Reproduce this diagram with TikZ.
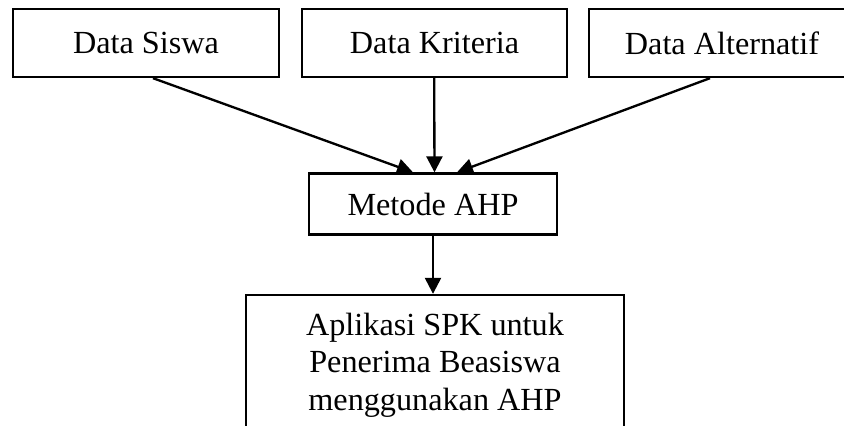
\documentclass[tikz,border=0pt]{standalone}
\usepackage{fontspec}
\setmainfont{Liberation Serif}
\usetikzlibrary{arrows.meta}

\tikzset{
	kotak/.style={draw, line width=2pt, align=center, inner sep=0pt, font=\fontsize{27.5}{32}\selectfont},
	panah/.style={line width=2pt, -{Triangle[length=0.48cm,width=0.48cm]}}
}

\begin{document}
\begin{tikzpicture}[x=0.03cm,y=-0.03cm]
			\useasboundingbox (0,0) rectangle (844,426);
			
			% Fixed coordinates
			\node (siswa) at (146,43) [kotak, minimum width=7.98cm, minimum height=2.04cm] {Data Siswa};
			\node (kriteria) at (434.5,43) [kotak, minimum width=7.95cm, minimum height=2.04cm] {Data Kriteria};
			\node (alternatif) at (722,43) [kotak, minimum width=7.98cm, minimum height=2.04cm] {Data Alternatif};
			\node (metode) at (433,204) [kotak, minimum width=7.44cm, minimum height=1.83cm] {Metode AHP};
			\node (aplikasi) at (435,365) [kotak, minimum width=11.34cm, minimum height=4.2cm] {Aplikasi SPK untuk\\Penerima Beasiswa\\menggunakan AHP};
			
			% Arrows into the method
			\draw[panah] ([xshift=0.21cm]siswa.south) -- ([xshift=-0.6cm]metode.north);
			\draw[panah] ([xshift=-0.01cm]kriteria.south) -- (kriteria.south |- metode.north);
			\draw[panah] ([xshift=-0.36cm]alternatif.south) -- ([xshift=0.72cm]metode.north);
			
			% Result
			\draw[panah] (metode.south) -- (metode.south |- aplikasi.north);
		\end{tikzpicture}
\end{document}
